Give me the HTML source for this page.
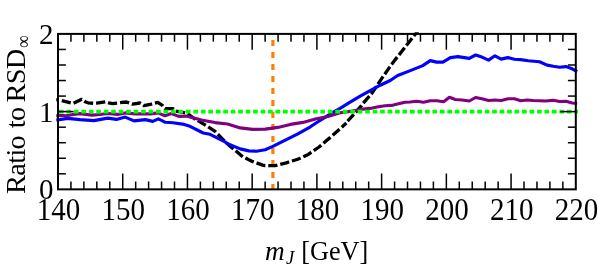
<!DOCTYPE html>
<html><head><meta charset="utf-8"><title>plot</title>
<style>
html,body{margin:0;padding:0;background:#fff;}
body{width:598px;height:266px;overflow:hidden;}
svg{display:block;}
text{font-family:"Liberation Serif",serif;fill:#000;}
#t{opacity:0.999;}
</style></head><body>
<svg width="598" height="266" viewBox="0 0 598 266">
<rect x="0" y="0" width="598" height="266" fill="#fff"/>
<defs><clipPath id="c"><rect x="56.3" y="32.3" width="521.6" height="158.14999999999998"/></clipPath></defs>
<g clip-path="url(#c)" fill="none" stroke-linejoin="round">
<path d="M272.9,190.05 L272.9,33.9" stroke="#ff8000" stroke-width="3.2" stroke-dasharray="6 6"/>
<path d="M55.0,99.5 L57.4,100.0 L61.4,100.6 L70.9,102.9 L73.6,103.3 L81.7,99.3 L85.1,101.7 L88.0,102.8 L93.9,103.3 L96.6,103.1 L105.6,101.9 L108.8,102.9 L112.5,103.7 L116.9,103.1 L120.1,102.7 L126.3,102.0 L128.9,102.9 L132.6,104.1 L140.2,103.0 L143.9,105.6 L151.4,104.1 L157.7,102.4 L162.7,105.7 L165.2,108.6 L172.8,108.6 L175.7,111.0 L183.8,112.5 L187.0,113.2 L194.5,118.8 L197.0,120.2 L205.0,124.9 L215.1,131.4 L220.0,136.4 L225.0,141.6 L230.1,146.3 L234.5,149.8 L240.7,155.1 L243.2,157.0 L251.4,160.9 L253.9,162.0 L262.7,165.1 L265.2,165.7 L275.2,165.7 L277.5,165.1 L286.3,162.9 L288.8,162.0 L297.0,159.5 L300.1,158.2 L308.3,154.4 L310.8,152.6 L318.3,147.5 L320.8,145.7 L325.7,141.2 L330.1,137.6 L337.0,131.5 L339.5,129.3 L346.4,123.1" stroke="#000" stroke-width="3.3" stroke-dasharray="9.25 2.92" stroke-dashoffset="5.3"/>
<path d="M347.6,121.2 L354.5,113.6 L361.4,105.7 L362.6,103.8 L369.9,95.6 L371.3,94.0 L382.3,77.7 L389.3,67.6 L394.4,60.6 L400.1,53.6 L405.7,46.3 L413.2,36.9 L418.2,30.5 L421.0,27.0" stroke="#000" stroke-width="3.3" stroke-dasharray="9.2 2.8"/>
<path d="M55.0,120.0 L57.0,119.8 L59.5,119.6 L67.6,118.4 L80.0,119.6 L93.9,120.6 L107.7,118.1 L116.5,119.4 L125.2,117.1 L134.0,120.9 L145.3,119.6 L152.8,121.4 L158.4,118.9 L165.4,122.3 L172.9,122.8 L184.2,124.4 L190.0,126.3 L203.2,133.0 L210.0,134.3 L217.6,138.2 L225.0,141.9 L227.6,143.7 L240.2,148.9 L248.9,150.9 L256.5,151.2 L265.2,149.7 L272.8,146.4 L285.3,140.1 L297.9,133.9 L310.4,126.8 L318.0,121.8 L325.0,117.4 L330.1,114.2 L335.1,111.1 L340.1,108.3 L350.1,102.1 L360.2,96.1 L370.2,90.6 L380.2,85.2 L390.2,80.5 L397.7,75.5 L410.3,70.6 L422.8,65.6 L430.3,60.6 L436.6,62.1 L442.9,62.1 L450.4,57.6 L457.9,56.6 L469.3,58.4 L475.6,55.0 L481.9,57.1 L488.6,60.1 L494.9,55.8 L501.2,59.1 L507.7,57.6 L514.5,59.3 L520.7,59.6 L528.3,60.8 L539.5,61.8 L547.1,65.1 L553.3,66.3 L559.6,67.3 L565.9,66.6 L572.2,68.8 L577.2,71.6" stroke="#0000ff" stroke-width="3.15"/>
<path d="M55.0,115.5 L57.0,115.3 L59.5,115.0 L66.5,115.4 L73.0,114.2 L80.0,113.3 L92.0,114.8 L100.0,114.2 L107.7,113.2 L117.7,114.1 L125.2,112.6 L135.3,113.6 L150.3,113.6 L157.9,112.6 L165.0,115.4 L171.3,113.2 L178.8,116.1 L186.3,115.8 L190.0,116.6 L202.5,119.9 L215.1,122.3 L227.6,123.7 L240.2,127.6 L252.7,129.1 L265.2,128.8 L277.8,127.1 L290.3,124.1 L302.9,122.1 L315.4,118.8 L327.9,116.3 L340.1,112.5 L350.1,111.1 L360.2,109.1 L370.0,108.1 L378.4,106.4 L385.1,105.4 L391.7,105.1 L398.4,103.4 L405.1,102.0 L410.1,101.7 L416.8,101.0 L423.5,102.0 L430.2,100.5 L436.9,100.5 L443.6,101.4 L449.4,97.0 L455.3,99.2 L462.0,99.7 L469.3,100.7 L475.6,97.2 L481.9,98.4 L488.6,100.2 L494.9,99.7 L501.2,100.2 L508.2,98.4 L514.5,98.4 L520.7,100.4 L527.0,99.7 L533.3,100.2 L545.8,100.7 L553.3,99.9 L559.6,101.2 L565.9,100.9 L572.2,102.7 L577.2,103.2" stroke="#800080" stroke-width="3.1" transform="translate(0,0.3)"/>
<path d="M58.9,111.7 L580,111.7" stroke="#00ff00" stroke-width="3.7" stroke-dasharray="4.7 2.77"/>
</g>
<g stroke="#000" stroke-width="1.5" fill="none">
<line x1="70.94" y1="33.9" x2="70.94" y2="41.699999999999996"/><line x1="70.94" y1="189.35" x2="70.94" y2="181.54999999999998"/><line x1="83.89" y1="33.9" x2="83.89" y2="41.699999999999996"/><line x1="83.89" y1="189.35" x2="83.89" y2="181.54999999999998"/><line x1="96.83" y1="33.9" x2="96.83" y2="41.699999999999996"/><line x1="96.83" y1="189.35" x2="96.83" y2="181.54999999999998"/><line x1="109.78" y1="33.9" x2="109.78" y2="41.699999999999996"/><line x1="109.78" y1="189.35" x2="109.78" y2="181.54999999999998"/><line x1="122.72" y1="33.9" x2="122.72" y2="49.7"/><line x1="122.72" y1="189.35" x2="122.72" y2="173.54999999999998"/><line x1="135.67" y1="33.9" x2="135.67" y2="41.699999999999996"/><line x1="135.67" y1="189.35" x2="135.67" y2="181.54999999999998"/><line x1="148.61" y1="33.9" x2="148.61" y2="41.699999999999996"/><line x1="148.61" y1="189.35" x2="148.61" y2="181.54999999999998"/><line x1="161.56" y1="33.9" x2="161.56" y2="41.699999999999996"/><line x1="161.56" y1="189.35" x2="161.56" y2="181.54999999999998"/><line x1="174.50" y1="33.9" x2="174.50" y2="41.699999999999996"/><line x1="174.50" y1="189.35" x2="174.50" y2="181.54999999999998"/><line x1="187.45" y1="33.9" x2="187.45" y2="49.7"/><line x1="187.45" y1="189.35" x2="187.45" y2="173.54999999999998"/><line x1="200.40" y1="33.9" x2="200.40" y2="41.699999999999996"/><line x1="200.40" y1="189.35" x2="200.40" y2="181.54999999999998"/><line x1="213.34" y1="33.9" x2="213.34" y2="41.699999999999996"/><line x1="213.34" y1="189.35" x2="213.34" y2="181.54999999999998"/><line x1="226.28" y1="33.9" x2="226.28" y2="41.699999999999996"/><line x1="226.28" y1="189.35" x2="226.28" y2="181.54999999999998"/><line x1="239.23" y1="33.9" x2="239.23" y2="41.699999999999996"/><line x1="239.23" y1="189.35" x2="239.23" y2="181.54999999999998"/><line x1="252.17" y1="33.9" x2="252.17" y2="49.7"/><line x1="252.17" y1="189.35" x2="252.17" y2="173.54999999999998"/><line x1="265.12" y1="33.9" x2="265.12" y2="41.699999999999996"/><line x1="265.12" y1="189.35" x2="265.12" y2="181.54999999999998"/><line x1="278.06" y1="33.9" x2="278.06" y2="41.699999999999996"/><line x1="278.06" y1="189.35" x2="278.06" y2="181.54999999999998"/><line x1="291.01" y1="33.9" x2="291.01" y2="41.699999999999996"/><line x1="291.01" y1="189.35" x2="291.01" y2="181.54999999999998"/><line x1="303.95" y1="33.9" x2="303.95" y2="41.699999999999996"/><line x1="303.95" y1="189.35" x2="303.95" y2="181.54999999999998"/><line x1="316.90" y1="33.9" x2="316.90" y2="49.7"/><line x1="316.90" y1="189.35" x2="316.90" y2="173.54999999999998"/><line x1="329.84" y1="33.9" x2="329.84" y2="41.699999999999996"/><line x1="329.84" y1="189.35" x2="329.84" y2="181.54999999999998"/><line x1="342.79" y1="33.9" x2="342.79" y2="41.699999999999996"/><line x1="342.79" y1="189.35" x2="342.79" y2="181.54999999999998"/><line x1="355.73" y1="33.9" x2="355.73" y2="41.699999999999996"/><line x1="355.73" y1="189.35" x2="355.73" y2="181.54999999999998"/><line x1="368.68" y1="33.9" x2="368.68" y2="41.699999999999996"/><line x1="368.68" y1="189.35" x2="368.68" y2="181.54999999999998"/><line x1="381.62" y1="33.9" x2="381.62" y2="49.7"/><line x1="381.62" y1="189.35" x2="381.62" y2="173.54999999999998"/><line x1="394.57" y1="33.9" x2="394.57" y2="41.699999999999996"/><line x1="394.57" y1="189.35" x2="394.57" y2="181.54999999999998"/><line x1="407.51" y1="33.9" x2="407.51" y2="41.699999999999996"/><line x1="407.51" y1="189.35" x2="407.51" y2="181.54999999999998"/><line x1="420.46" y1="33.9" x2="420.46" y2="41.699999999999996"/><line x1="420.46" y1="189.35" x2="420.46" y2="181.54999999999998"/><line x1="433.40" y1="33.9" x2="433.40" y2="41.699999999999996"/><line x1="433.40" y1="189.35" x2="433.40" y2="181.54999999999998"/><line x1="446.35" y1="33.9" x2="446.35" y2="49.7"/><line x1="446.35" y1="189.35" x2="446.35" y2="173.54999999999998"/><line x1="459.29" y1="33.9" x2="459.29" y2="41.699999999999996"/><line x1="459.29" y1="189.35" x2="459.29" y2="181.54999999999998"/><line x1="472.24" y1="33.9" x2="472.24" y2="41.699999999999996"/><line x1="472.24" y1="189.35" x2="472.24" y2="181.54999999999998"/><line x1="485.18" y1="33.9" x2="485.18" y2="41.699999999999996"/><line x1="485.18" y1="189.35" x2="485.18" y2="181.54999999999998"/><line x1="498.13" y1="33.9" x2="498.13" y2="41.699999999999996"/><line x1="498.13" y1="189.35" x2="498.13" y2="181.54999999999998"/><line x1="511.07" y1="33.9" x2="511.07" y2="49.7"/><line x1="511.07" y1="189.35" x2="511.07" y2="173.54999999999998"/><line x1="524.02" y1="33.9" x2="524.02" y2="41.699999999999996"/><line x1="524.02" y1="189.35" x2="524.02" y2="181.54999999999998"/><line x1="536.96" y1="33.9" x2="536.96" y2="41.699999999999996"/><line x1="536.96" y1="189.35" x2="536.96" y2="181.54999999999998"/><line x1="549.91" y1="33.9" x2="549.91" y2="41.699999999999996"/><line x1="549.91" y1="189.35" x2="549.91" y2="181.54999999999998"/><line x1="562.86" y1="33.9" x2="562.86" y2="41.699999999999996"/><line x1="562.86" y1="189.35" x2="562.86" y2="181.54999999999998"/><line x1="58.0" y1="173.81" x2="65.9" y2="173.81"/><line x1="575.8" y1="173.81" x2="567.9" y2="173.81"/><line x1="58.0" y1="158.26" x2="65.9" y2="158.26"/><line x1="575.8" y1="158.26" x2="567.9" y2="158.26"/><line x1="58.0" y1="142.71" x2="65.9" y2="142.71"/><line x1="575.8" y1="142.71" x2="567.9" y2="142.71"/><line x1="58.0" y1="127.17" x2="65.9" y2="127.17"/><line x1="575.8" y1="127.17" x2="567.9" y2="127.17"/><line x1="58.0" y1="111.62" x2="73.6" y2="111.62"/><line x1="575.8" y1="111.62" x2="560.1999999999999" y2="111.62"/><line x1="58.0" y1="96.08" x2="65.9" y2="96.08"/><line x1="575.8" y1="96.08" x2="567.9" y2="96.08"/><line x1="58.0" y1="80.53" x2="65.9" y2="80.53"/><line x1="575.8" y1="80.53" x2="567.9" y2="80.53"/><line x1="58.0" y1="64.99" x2="65.9" y2="64.99"/><line x1="575.8" y1="64.99" x2="567.9" y2="64.99"/><line x1="58.0" y1="49.44" x2="65.9" y2="49.44"/><line x1="575.8" y1="49.44" x2="567.9" y2="49.44"/>
</g>
<rect x="58.0" y="33.9" width="517.8" height="155.45" fill="none" stroke="#000" stroke-width="2"/>
<g id="t"><g font-size="29px">
<text transform="translate(58.60,220.2) scale(1,1.07)" text-anchor="middle">140</text><text transform="translate(123.32,220.2) scale(1,1.07)" text-anchor="middle">150</text><text transform="translate(188.05,220.2) scale(1,1.07)" text-anchor="middle">160</text><text transform="translate(252.77,220.2) scale(1,1.07)" text-anchor="middle">170</text><text transform="translate(317.50,220.2) scale(1,1.07)" text-anchor="middle">180</text><text transform="translate(382.23,220.2) scale(1,1.07)" text-anchor="middle">190</text><text transform="translate(446.95,220.2) scale(1,1.07)" text-anchor="middle">200</text><text transform="translate(511.67,220.2) scale(1,1.07)" text-anchor="middle">210</text><text transform="translate(576.40,220.2) scale(1,1.07)" text-anchor="middle">220</text>
<text transform="translate(53.5,199.45) scale(1,1.045)" text-anchor="end">0</text><text transform="translate(53.5,121.72) scale(1,1.045)" text-anchor="end">1</text><text transform="translate(53.5,44.00) scale(1,1.045)" text-anchor="end">2</text>
</g>
<text transform="translate(265,260.2) scale(1,1.03)" font-size="27.3px" font-style="italic">m<tspan font-size="18.6px" dx="1.4" dy="3.6">J</tspan></text>
<text transform="translate(301.2,260.2) scale(1,1.05)" font-size="26.3px">[GeV]</text>
<text transform="translate(24.6,193.9) rotate(-90) scale(1.06,1)" font-size="26.8px" letter-spacing="-0.68">Ratio <tspan dx="1.3">to</tspan> <tspan dx="-1.3">RSD</tspan></text>
<text transform="translate(29.7,48.1) rotate(-90) scale(0.93,1.08)" font-size="19px">∞</text>
</g></svg>
</body></html>
